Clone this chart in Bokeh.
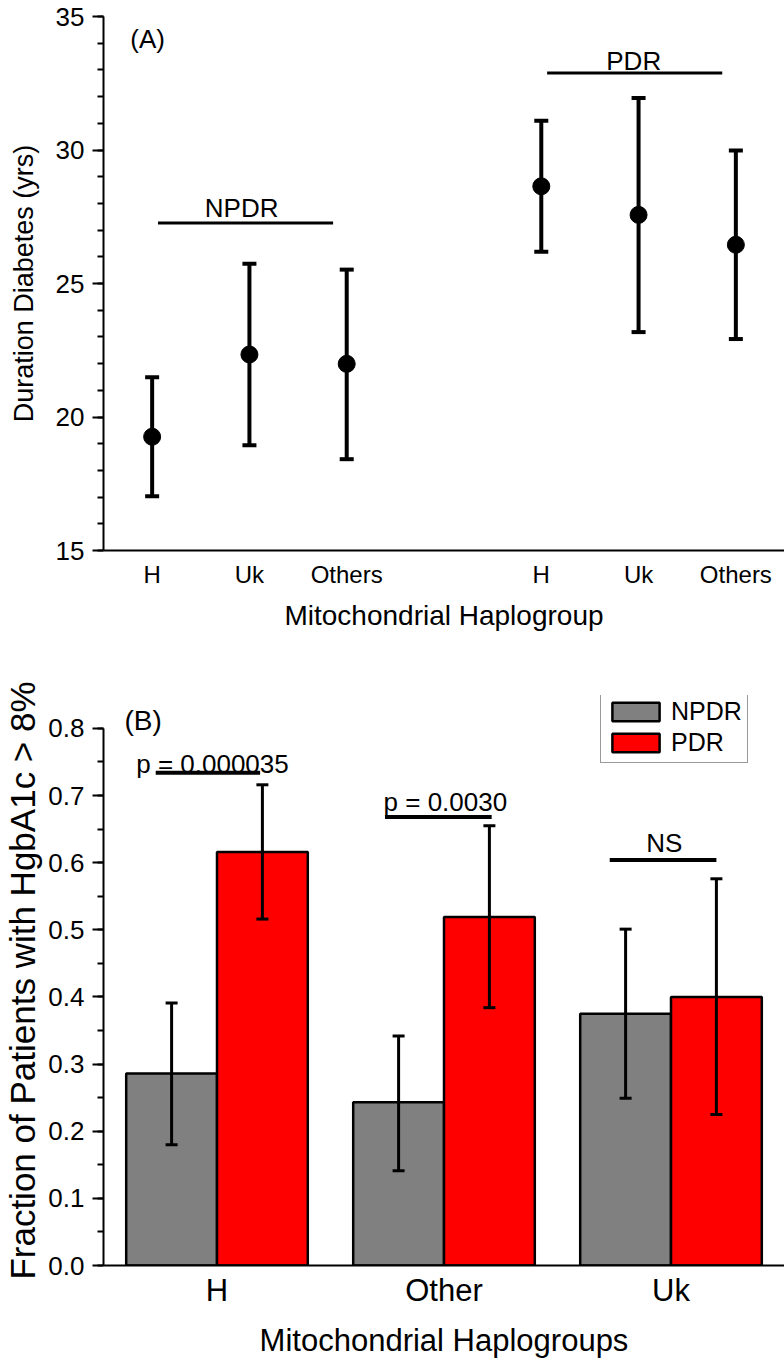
from bokeh.plotting import figure
from bokeh.models import (ColumnDataSource, Whisker, TeeHead, FixedTicker, Range1d,
                          Legend, LegendItem, PrintfTickFormatter, SingleIntervalTicker)
from bokeh.layouts import column
from bokeh.embed import file_html
from bokeh.resources import INLINE
from bokeh.core.properties import value

FONT = "Liberation Sans"

# ---------------- Panel A data ----------------
a_groups = ["NPDR", "PDR"]
a_haplo = ["H", "Uk", "Others"]
a_mean_npdr = [19.26, 22.34, 21.99]
a_upper_npdr = [21.49, 25.74, 25.52]
a_lower_npdr = [17.03, 18.94, 18.42]
a_mean_pdr = [28.64, 27.57, 26.45]
a_upper_pdr = [31.10, 31.95, 29.98]
a_lower_pdr = [26.19, 23.18, 22.92]

# ---------------- Panel B data ----------------
b_haplo = ["H", "Other", "Uk"]
b_series = ["NPDR", "PDR"]
b_npdr = [0.286, 0.243, 0.375]
b_npdr_hi = [0.391, 0.342, 0.501]
b_npdr_lo = [0.180, 0.141, 0.249]
b_pdr = [0.616, 0.519, 0.400]
b_pdr_hi = [0.716, 0.655, 0.576]
b_pdr_lo = [0.516, 0.384, 0.225]
b_sig = ["p = 0.000035", "p = 0.0030", "NS"]


def style_common(p):
    p.outline_line_color = None
    p.xgrid.visible = False
    p.ygrid.visible = False
    p.background_fill_color = "white"
    p.border_fill_color = "white"
    for ax in p.axis:
        ax.axis_line_width = 2
        ax.axis_line_color = "black"
        ax.major_tick_line_width = 2
        ax.minor_tick_line_width = 2
        ax.major_tick_line_color = "black"
        ax.minor_tick_line_color = "black"
        ax.major_label_text_font = FONT
        ax.axis_label_text_font = FONT
        ax.axis_label_text_font_style = "normal"
        ax.major_label_text_color = "black"
        ax.axis_label_text_color = "black"


# ================= Panel A =================
a_x, a_mean, a_up, a_lo = [], [], [], []
for gi, (means, ups, los) in enumerate([(a_mean_npdr, a_upper_npdr, a_lower_npdr),
                                         (a_mean_pdr, a_upper_pdr, a_lower_pdr)]):
    for hi in range(len(a_haplo)):
        a_x.append(gi * (len(a_haplo) + 1) + hi + 1)
        a_mean.append(means[hi])
        a_up.append(ups[hi])
        a_lo.append(los[hi])

srcA = ColumnDataSource(dict(x=a_x, mean=a_mean, upper=a_up, lower=a_lo))

pA = figure(width=784, height=633, x_range=Range1d(0.5, 7.5), y_range=Range1d(15, 35),
            output_backend="svg", toolbar_location=None,
            min_border_left=101, min_border_right=0, min_border_top=16, min_border_bottom=83)

wA = Whisker(base="x", upper="upper", lower="lower", source=srcA,
             line_width=4, line_color="black", level="overlay",
             upper_head=TeeHead(size=14, line_width=4, line_color="black"),
             lower_head=TeeHead(size=14, line_width=4, line_color="black"))
pA.add_layout(wA)
pA.scatter("x", "mean", source=srcA, size=17, color="black", level="overlay")

# group brackets and labels
pA.segment(x0=[1.06, 5.06], y0=[27.27, 32.88], x1=[2.86, 6.86], y1=[27.27, 32.88],
           line_width=3, line_color="black")
pA.text(x=[1.92, 5.95], y=[27.83, 33.33], text=a_groups, text_align="center",
        text_baseline="alphabetic", text_font=value(FONT), text_font_size="26px",
        text_color="black")
pA.text(x=[0.775], y=[34.15], text=["(A)"], text_align="left", text_baseline="alphabetic",
        text_font=value(FONT), text_font_size="26px", text_color="black")

style_common(pA)
xa = pA.xaxis[0]
xa.ticker = FixedTicker(ticks=a_x)
xa.major_label_overrides = {x: a_haplo[i % 3] for i, x in enumerate(a_x)}
xa.major_tick_out = 0
xa.major_tick_in = 0
xa.minor_tick_out = 0
xa.minor_tick_in = 0
xa.major_label_text_font_size = "24px"
xa.major_label_standoff = 10
xa.axis_label = "Mitochondrial Haplogroup"
xa.axis_label_text_font_size = "28px"
xa.axis_label_standoff = 9

ya = pA.yaxis[0]
ya.ticker = SingleIntervalTicker(interval=5, num_minor_ticks=5)
ya.major_tick_out = 11
ya.major_tick_in = 0
ya.minor_tick_out = 6
ya.minor_tick_in = 0
ya.major_label_text_font_size = "26px"
ya.major_label_standoff = 8
ya.axis_label = "Duration Diabetes (yrs)"
ya.axis_label_text_font_size = "27px"
ya.axis_label_standoff = 14

# ================= Panel B =================
b_pos = [i + 1 for i in range(len(b_haplo))]
dodge = 0.2
srcB1 = ColumnDataSource(dict(x=[p - dodge for p in b_pos], top=b_npdr, hi=b_npdr_hi, lo=b_npdr_lo))
srcB2 = ColumnDataSource(dict(x=[p + dodge for p in b_pos], top=b_pdr, hi=b_pdr_hi, lo=b_pdr_lo))

# frame extends a little above 0.8 so that the legend and "(B)" fit; axis line stops at 0.8
pB = figure(width=784, height=727, x_range=Range1d(0.5, 3.5), y_range=Range1d(0, 0.849),
            output_backend="svg", toolbar_location=None,
            min_border_left=101, min_border_right=0, min_border_top=62, min_border_bottom=94)

r1 = pB.vbar(x="x", top="top", width=0.4, source=srcB1, fill_color="#808080",
             line_color="black", line_width=2.5)
r2 = pB.vbar(x="x", top="top", width=0.4, source=srcB2, fill_color="#ff0000",
             line_color="black", line_width=2.5)

for s in (srcB1, srcB2):
    w = Whisker(base="x", upper="hi", lower="lo", source=s, line_width=3, line_color="black",
                level="overlay",
                upper_head=TeeHead(size=12, line_width=3, line_color="black"),
                lower_head=TeeHead(size=12, line_width=3, line_color="black"))
    pB.add_layout(w)

pB.segment(x0=[0.73, 1.74, 2.73], y0=[0.734, 0.668, 0.604],
           x1=[1.19, 2.21, 3.20], y1=[0.734, 0.668, 0.604],
           line_width=4, line_color="black")
pB.text(x=[0.98, 2.006, 2.97], y=[0.747, 0.690, 0.6295], text=b_sig,
        text_align="center", text_baseline="alphabetic", text_font=value(FONT),
        text_font_size="26px", text_color="black")
pB.text(x=[0.592], y=[0.812], text=["(B)"], text_align="left", text_baseline="alphabetic",
        text_font=value(FONT), text_font_size="28px", text_color="black")

legend = Legend(items=[LegendItem(label=b_series[0], renderers=[r1]),
                       LegendItem(label=b_series[1], renderers=[r2])],
                location=(497, 502), glyph_width=59, glyph_height=23,
                label_text_font=FONT, label_text_font_size="25px", label_standoff=6,
                label_text_color="black",
                padding=5, spacing=2, margin=0,
                border_line_color="#333333", border_line_width=1.5,
                background_fill_color="white", background_fill_alpha=1.0)
pB.add_layout(legend)

style_common(pB)
xb = pB.xaxis[0]
xb.ticker = FixedTicker(ticks=b_pos)
xb.major_label_overrides = {p: b_haplo[i] for i, p in enumerate(b_pos)}
xb.major_tick_out = 0
xb.major_tick_in = 0
xb.minor_tick_out = 0
xb.minor_tick_in = 0
xb.major_label_text_font_size = "31px"
xb.major_label_standoff = 7
xb.axis_label = "Mitochondrial Haplogroups"
xb.axis_label_text_font_size = "31px"
xb.axis_label_standoff = 12

yb = pB.yaxis[0]
yb.ticker = SingleIntervalTicker(interval=0.1, num_minor_ticks=2)
yb.formatter = PrintfTickFormatter(format="%.1f")
yb.bounds = (0, 0.8)
yb.major_tick_out = 11
yb.major_tick_in = 0
yb.minor_tick_out = 6
yb.minor_tick_in = 0
yb.major_label_text_font_size = "26px"
yb.major_label_standoff = 8
yb.axis_label = "Fraction of Patients with HgbA1c > 8%"
yb.axis_label_text_font_size = "35px"
yb.axis_label_standoff = 3

layout = column(pA, pB, spacing=0)
open("out.html", "w").write(file_html(layout, INLINE))
